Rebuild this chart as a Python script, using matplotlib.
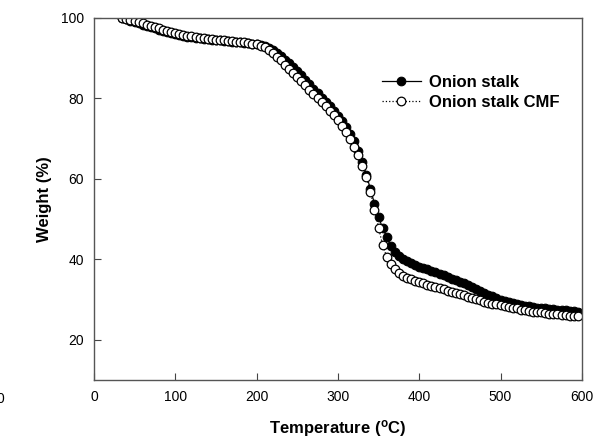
import matplotlib.pyplot as plt
import numpy as np

plt.rcParams['font.family'] = ['Liberation Sans', 'DejaVu Sans']
plt.rcParams['mathtext.fontset'] = 'custom'
plt.rcParams['mathtext.rm'] = 'Liberation Sans'
plt.rcParams['mathtext.bf'] = 'Liberation Sans:bold'

# temperature grid (C), one reading every 5 degrees
temperature = np.arange(35, 600, 5)

# weight (%)
stalk = [100.0, 99.7, 99.3, 98.9, 98.6, 98.3, 98.0, 97.7, 97.4, 97.1,
         96.8, 96.5, 96.2, 95.9, 95.7, 95.5, 95.3, 95.2, 95.0, 94.9,
         94.8, 94.7, 94.6, 94.5, 94.4, 94.3, 94.2, 94.1, 94.0, 93.9,
         93.8, 93.7, 93.6, 93.5,
         93.3, 93.0, 92.6, 92.0, 91.3, 90.5, 89.6, 88.7, 87.7, 86.7,
         85.7, 84.6, 83.5, 82.4, 81.3, 80.2, 79.1, 78.0, 76.9, 75.7,
         74.4, 72.9, 71.2, 69.3, 67.0, 64.2, 61.0, 57.5, 53.8, 50.5,
         47.8, 45.5, 43.2, 41.8, 40.8, 40.1, 39.5, 39.0, 38.6, 38.2,
         37.9, 37.6, 37.2, 36.8, 36.4, 36.0, 35.6, 35.2, 34.8, 34.4,
         34.0, 33.6, 33.1, 32.6, 32.1, 31.6, 31.2, 30.8, 30.4, 30.0,
         29.7, 29.4, 29.1, 28.9, 28.7, 28.5, 28.3, 28.1, 28.0, 27.9,
         27.8, 27.7, 27.6, 27.5, 27.4, 27.3, 27.2, 27.1, 27.0]

stalk_cmf = [100.0, 99.8, 99.5, 99.2, 98.9, 98.6, 98.3, 98.0, 97.7, 97.4,
             97.1, 96.8, 96.5, 96.2, 96.0, 95.8, 95.6, 95.4, 95.2, 95.0,
             94.9, 94.8, 94.7, 94.6, 94.5, 94.4, 94.3, 94.2, 94.1, 94.0,
             93.9, 93.8, 93.6, 93.4,
             93.1, 92.7, 92.0, 91.2, 90.3, 89.4, 88.4, 87.4, 86.4, 85.4,
             84.3, 83.2, 82.1, 81.0, 80.0, 79.0, 78.0, 76.9, 75.8, 74.6,
             73.2, 71.7, 70.0, 68.0, 65.8, 63.2, 60.5, 56.8, 52.3, 47.8,
             43.6, 40.6, 38.8, 37.5, 36.6, 35.9, 35.4, 35.0, 34.6, 34.3,
             34.0, 33.7, 33.4, 33.1, 32.8, 32.5, 32.2, 31.9, 31.6, 31.3,
             31.0, 30.7, 30.4, 30.1, 29.8, 29.5, 29.2, 29.0, 28.8, 28.6,
             28.4, 28.2, 28.0, 27.8, 27.5, 27.3, 27.1, 27.0, 26.9, 26.8,
             26.6, 26.5, 26.4, 26.3, 26.2, 26.1, 26.0, 25.9, 25.8]

fig = plt.figure(figsize=(5.98, 4.46), dpi=100)
ax = fig.add_axes([0.157, 0.148, 0.816, 0.812])

ax.plot(temperature, stalk, '-', color='black', lw=0.9, marker='o',
        ms=6.2, mfc='black', mec='black', mew=0.8, label='Onion stalk')
ax.plot(temperature, stalk_cmf, ':', color='black', lw=0.9, marker='o',
        ms=6.2, mfc='white', mec='black', mew=0.9, label='Onion stalk CMF')

ax.set_xlim(0, 600)
ax.set_ylim(10, 100)
ax.set_xticks([0, 100, 200, 300, 400, 500, 600])
ax.set_yticks([20, 40, 60, 80, 100])
ax.tick_params(direction='in', length=5, width=0.8, labelsize=10, pad=7,
               color='#444444')
for s in ax.spines.values():
    s.set_color('#555555')
    s.set_linewidth(1.0)

ax.set_xlabel(r'Temperature ($\mathbf{^o}$C)', fontsize=12, fontweight='bold')
ax.set_ylabel('Weight (%)', fontsize=12, fontweight='bold')
ax.xaxis.set_label_coords(0.5, -0.105)
ax.yaxis.set_label_coords(-0.086, 0.5)

leg = ax.legend(loc='upper left', bbox_to_anchor=(0.567, 0.875), frameon=False,
                prop={'weight': 'bold', 'size': 12}, handlelength=2.3,
                handletextpad=0.5, labelspacing=0.3, borderpad=0.2)

# clipped stray label at the left edge of the original figure
fig.text(-0.006, 0.105, '0', fontsize=10, ha='left', va='center')

fig.savefig('out.png', dpi=100)
